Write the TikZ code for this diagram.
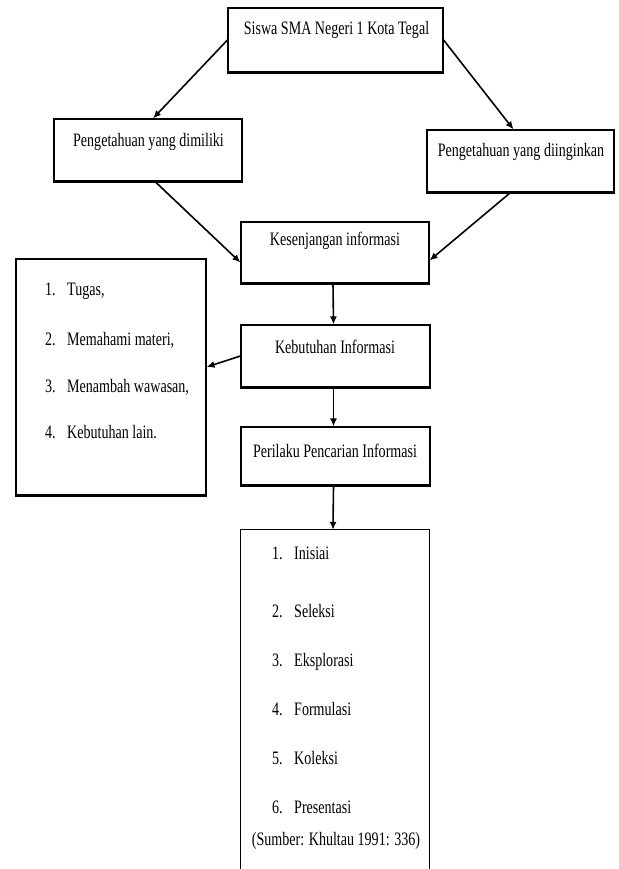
\documentclass[tikz,border=0pt]{standalone}
\usepackage{fontspec}
\setmainfont{Liberation Serif}[FakeStretch=0.74]
\usetikzlibrary{arrows.meta}
\tikzset{
  box/.style={draw, line width=1.1pt, inner sep=0pt, rectangle},
  txt/.style={inner sep=0pt, anchor=base, font=\fontsize{19}{22}\selectfont},
  item/.style={inner sep=0pt, anchor=base west, font=\fontsize{19}{22}\selectfont},
  arr/.style={line width=1.6pt, -{Latex[length=8pt,width=7pt]}},
  sh/.style={line width=2.6pt}
}
\newcommand{\numit}[2]{\makebox[22pt][l]{#1}#2}
\begin{document}
\begin{tikzpicture}[x=1pt,y=-1pt]
\useasboundingbox (0,0) rectangle (618,869);
% boxes
\node[box, minimum width=215pt, minimum height=64pt] (siswa) at (335.5,40) {};
\node[box, minimum width=188pt, minimum height=62pt] (dim) at (148,150) {};
\node[box, minimum width=187pt, minimum height=62pt] (ingin) at (520.5,161) {};
\node[box, minimum width=188pt, minimum height=61pt] (kes) at (335,252.5) {};
\node[box, minimum width=189pt, minimum height=62pt] (keb) at (335.5,356) {};
\node[box, minimum width=189pt, minimum height=58pt] (per) at (335.5,456) {};
\node[box, minimum width=190pt, minimum height=236pt] (list) at (111,377) {};
\node[inner sep=0pt, minimum width=188pt, minimum height=345pt] (steps) at (335,702.5) {};
\draw[line width=1.1pt] (steps.south west) -- (steps.north west) -- (steps.north east) -- (steps.south east);
% thicker bottom edges
\foreach \n in {siswa,dim,ingin,kes,keb,per,list}
  \draw[sh] (\n.south west) -- (\n.south east);
% texts
\node[txt] (siswaT) at (336.5,35) {Siswa SMA Negeri 1 Kota Tegal};
\node[txt] (dimT) at (148.5,147) {Pengetahuan yang dimiliki};
\node[txt] (inginT) at (521,157) {Pengetahuan yang diinginkan};
\node[txt] (kesT) at (335,245) {Kesenjangan informasi};
\node[txt] (kebT) at (335,353) {Kebutuhan Informasi};
\node[txt] (perT) at (335,457) {Perilaku Pencarian Informasi};
% left list
\node[item] (l1) at (45,295) {\numit{1.}{Tugas,}};
\node[item] (l2) at (45,345) {\numit{2.}{Memahami materi,}};
\node[item] (l3) at (45,392) {\numit{3.}{Menambah wawasan,}};
\node[item] (l4) at (45,438) {\numit{4.}{Kebutuhan lain.}};
% steps list
\node[item] (s1) at (272,559) {\numit{1.}{Inisiai}};
\node[item] (s2) at (272,617) {\numit{2.}{Seleksi}};
\node[item] (s3) at (272,666) {\numit{3.}{Eksplorasi}};
\node[item] (s4) at (272,715) {\numit{4.}{Formulasi}};
\node[item] (s5) at (272,764) {\numit{5.}{Koleksi}};
\node[item] (s6) at (272,813) {\numit{6.}{Presentasi}};
\node[txt] (src) at (336,845) {(Sumber: Khultau 1991: 336)};
% arrows
\draw[arr] (siswa.west) -- ([xshift=5pt]dim.north);
\draw[arr] (siswa.east) -- ([xshift=-7pt]ingin.north);
\draw[arr] ([xshift=7pt]dim.south) -- ([yshift=-10pt]kes.west);
\draw[arr] ([xshift=-10pt]ingin.south) -- ([yshift=-8pt]kes.east);
\draw[arr] ([xshift=-2pt]kes.south) -- ([xshift=-2pt]keb.north);
\draw[arr] (keb.west) -- ([yshift=10pt]list.east);
\draw[arr] ([xshift=-2pt]keb.south) -- ([xshift=-2pt]per.north);
\draw[arr] ([xshift=-2pt]per.south) -- ([xshift=-2pt]steps.north);
\end{tikzpicture}
\end{document}
